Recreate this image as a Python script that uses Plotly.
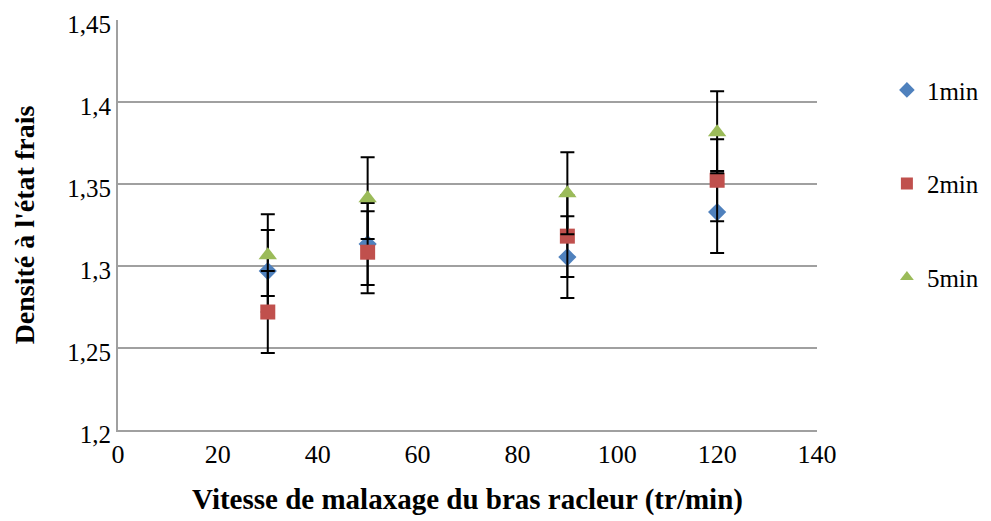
import plotly.graph_objects as go

speeds = [30, 50, 90, 120]
series_names = ["1min", "2min", "5min"]
dens_1min = [1.297, 1.3135, 1.3055, 1.333]
dens_2min = [1.272, 1.3085, 1.3183, 1.3524]
dens_5min = [1.3067, 1.3415, 1.3445, 1.3817]
err_1min = [0.025, 0.025, 0.025, 0.025]
err_2min = [0.025, 0.025, 0.025, 0.025]
err_5min = [0.025, 0.025, 0.025, 0.025]
y_ticks = [1.2, 1.25, 1.3, 1.35, 1.4, 1.45]
y_tick_labels = ["1,2", "1,25", "1,3", "1,35", "1,4", "1,45"]
x_ticks = [0, 20, 40, 60, 80, 100, 120, 140]

FONT = "Liberation Serif"
styles = [
    dict(symbol="diamond", color="#4F81BD", size=14),
    dict(symbol="square", color="#C0504D", size=15),
    dict(symbol="triangle-up", color="#9BBB59", size=16),
]
values = [dens_1min, dens_2min, dens_5min]
errs = [err_1min, err_2min, err_5min]

fig = go.Figure()
for i, name in enumerate(series_names):
    st = styles[i]
    fig.add_trace(go.Scatter(
        x=speeds, y=values[i], mode="markers", name=name,
        legendgroup=name,
        marker=dict(symbol=st["symbol"], color=st["color"], size=st["size"], line=dict(width=0)),
        error_y=dict(type="data", array=errs[i], visible=True, color="black", thickness=2, width=7),
    ))

fig.update_layout(
    width=991, height=521,
    margin=dict(l=110, r=182, t=12, b=99),
    paper_bgcolor="white", plot_bgcolor="white",
    separators=", ",
    font=dict(family=FONT, size=26, color="black"),
    legend=dict(x=1.10, y=0.885, xanchor="left", yanchor="top",
                tracegroupgap=58, font=dict(family=FONT, size=25),
                itemsizing="constant"),
    xaxis=dict(range=[0, 140], tickvals=x_ticks, showgrid=False, showline=True,
               linecolor="#A0A0A0", linewidth=2, zeroline=False, ticks="",
               automargin=False, ticklabeloverflow="allow",
               tickfont=dict(family=FONT, size=26),
               title=dict(text="<b>Vitesse de malaxage du bras racleur (tr/min)</b>",
                          font=dict(family=FONT, size=29), standoff=20)),
    yaxis=dict(range=[1.2, 1.4502], tickvals=y_ticks, ticktext=y_tick_labels,
               showgrid=True, gridcolor="#A0A0A0",
               gridwidth=2, showline=True, linecolor="#A0A0A0", linewidth=2,
               zeroline=False, ticks="", automargin=False, ticklabeloverflow="allow",
               ticklabelshift=4,
               tickfont=dict(family=FONT, size=25),
               title=dict(text="<b>Densité à l'état frais</b>",
                          font=dict(family=FONT, size=28), standoff=24)),
)

fig.write_html("out.html")
